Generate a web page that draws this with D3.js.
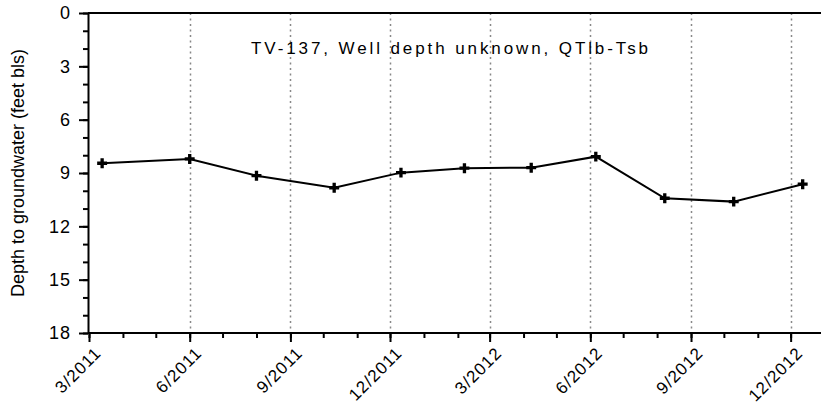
<!DOCTYPE html>
<html>
<head>
<meta charset="utf-8">
<script src="https://cdn.jsdelivr.net/npm/d3@7"></script>
<style>
  body { margin: 0; background: #fff; }
  svg { display: block; font-family: "Liberation Sans", Arial, sans-serif; }
</style>
</head>
<body>
<script>
// measurement dates and depths to groundwater (feet below land surface)
var dates = ["2011-03-13", "2011-06-01", "2011-08-01", "2011-10-11", "2011-12-11",
             "2012-02-07", "2012-04-08", "2012-06-06", "2012-08-08", "2012-10-10",
             "2012-12-12"];
var depths = [8.45, 8.21, 9.15, 9.83, 8.98, 8.73, 8.70, 8.08, 10.42, 10.61, 9.63];

// tick labels
var xTickLabels = ["3/2011", "6/2011", "9/2011", "12/2011", "3/2012", "6/2012",
                   "9/2012", "12/2012"];
var yTicks = [0, 3, 6, 9, 12, 15, 18];
var title = "TV-137, Well depth unknown, QTlb-Tsb";
var yLabel = "Depth to groundwater (feet bls)";

window.onload = function() {

  // plot parameters
  var width = 821, height = 409;
  var margin = {left: 88, right: 3, top: 13, bottom: 76};

  var parse = d3.timeParse("%Y-%m-%d");
  var data = dates.map(function(d, i) {
    return {date: parse(d), depth: depths[i]};
  });

  var svg = d3.select("body")
              .append("svg")
              .attr("width", width)
              .attr("height", height);

  // scales
  var x = d3.scaleTime()
            .domain([new Date(2011, 2, 1), new Date(2012, 11, 26)])
            .range([89, width - margin.right]);
  var y = d3.scaleLinear()
            .domain([0, 18])
            .range([margin.top, height - margin.bottom]);

  var majorDates = xTickLabels.map(function(t) {
    var p = t.split("/");
    return new Date(+p[1], +p[0] - 1, 1);
  });
  var minorDates = d3.timeMonth.range(new Date(2011, 2, 1), new Date(2012, 11, 2));

  // dotted gridlines at the major dates
  svg.selectAll(".grid")
     .data(majorDates.slice(1))
     .enter()
     .append("line")
     .attr("class", "grid")
     .attr("x1", function(d) { return Math.round(x(d)) + 0.5; })
     .attr("x2", function(d) { return Math.round(x(d)) + 0.5; })
     .attr("y1", y(0))
     .attr("y2", y(18))
     .attr("stroke", "#888")
     .attr("stroke-width", 1.5)
     .attr("stroke-dasharray", "2,3.5");

  // top line of the frame
  svg.append("line")
     .attr("x1", margin.left)
     .attr("x2", width)
     .attr("y1", y(0))
     .attr("y2", y(0))
     .attr("stroke", "#000")
     .attr("stroke-width", 2);

  // x axis: minor ticks, then major ticks with labels
  svg.append("g")
     .attr("transform", "translate(0," + y(18) + ")")
     .call(d3.axisBottom(x).tickValues(minorDates).tickSize(5).tickFormat(""))
     .call(function(g) {
       g.select(".domain").remove();
       g.selectAll("line").attr("stroke-width", 2);
     });

  var xAxis = svg.append("g")
     .attr("transform", "translate(0," + y(18) + ")")
     .call(d3.axisBottom(x).tickValues(majorDates).tickSize(9).tickSizeOuter(0)
             .tickFormat(function(d, i) { return xTickLabels[i]; }));
  xAxis.select(".domain")
       .attr("d", "M" + margin.left + ",0H" + width)
       .attr("stroke-width", 2);
  xAxis.selectAll("line").attr("stroke-width", 2);
  xAxis.selectAll("text")
       .style("font-size", "17px")
       .style("letter-spacing", "1px")
       .style("fill", "#000")
       .style("text-anchor", "end")
       .attr("dx", "-6px")
       .attr("dy", "14px")
       .attr("y", 10)
       .attr("transform", "rotate(-45)");

  // y axis: minor ticks, then major ticks with labels
  svg.append("g")
     .attr("transform", "translate(" + margin.left + ",0)")
     .call(d3.axisLeft(y).tickValues(d3.range(0, 19)).tickSize(5).tickFormat(""))
     .call(function(g) {
       g.select(".domain").remove();
       g.selectAll("line").attr("stroke-width", 2);
     });

  var yAxis = svg.append("g")
     .attr("transform", "translate(" + margin.left + ",0)")
     .call(d3.axisLeft(y).tickValues(yTicks).tickSize(9).tickSizeOuter(0)
             .tickFormat(d3.format("d")));
  yAxis.select(".domain").attr("stroke-width", 2);
  yAxis.selectAll("line").attr("stroke-width", 2);
  yAxis.selectAll("text")
       .style("font-size", "18px")
       .style("letter-spacing", "1px")
       .style("fill", "#000")
       .attr("x", -17);

  // y label
  svg.append("text")
     .attr("transform", "translate(24," + (y(9)) + ") rotate(-90)")
     .style("text-anchor", "middle")
     .style("font-size", "18px")
     .text(yLabel);

  // title
  svg.append("text")
     .attr("x", 451)
     .attr("y", 54)
     .style("text-anchor", "middle")
     .style("font-size", "17px")
     .style("letter-spacing", "2.9px")
     .text(title);

  // data line
  var line = d3.line()
               .x(function(d) { return x(d.date); })
               .y(function(d) { return y(d.depth); });

  svg.append("path")
     .datum(data)
     .attr("d", line)
     .attr("fill", "none")
     .attr("stroke", "#000")
     .attr("stroke-width", 2);

  // plus markers
  svg.selectAll(".marker")
     .data(data)
     .enter()
     .append("path")
     .attr("class", "marker")
     .attr("d", d3.symbol().type(d3.symbolCross).size(55))
     .attr("transform", function(d) {
       return "translate(" + x(d.date) + "," + y(d.depth) + ")";
     })
     .attr("fill", "#000");
};
</script>
</body>
</html>
